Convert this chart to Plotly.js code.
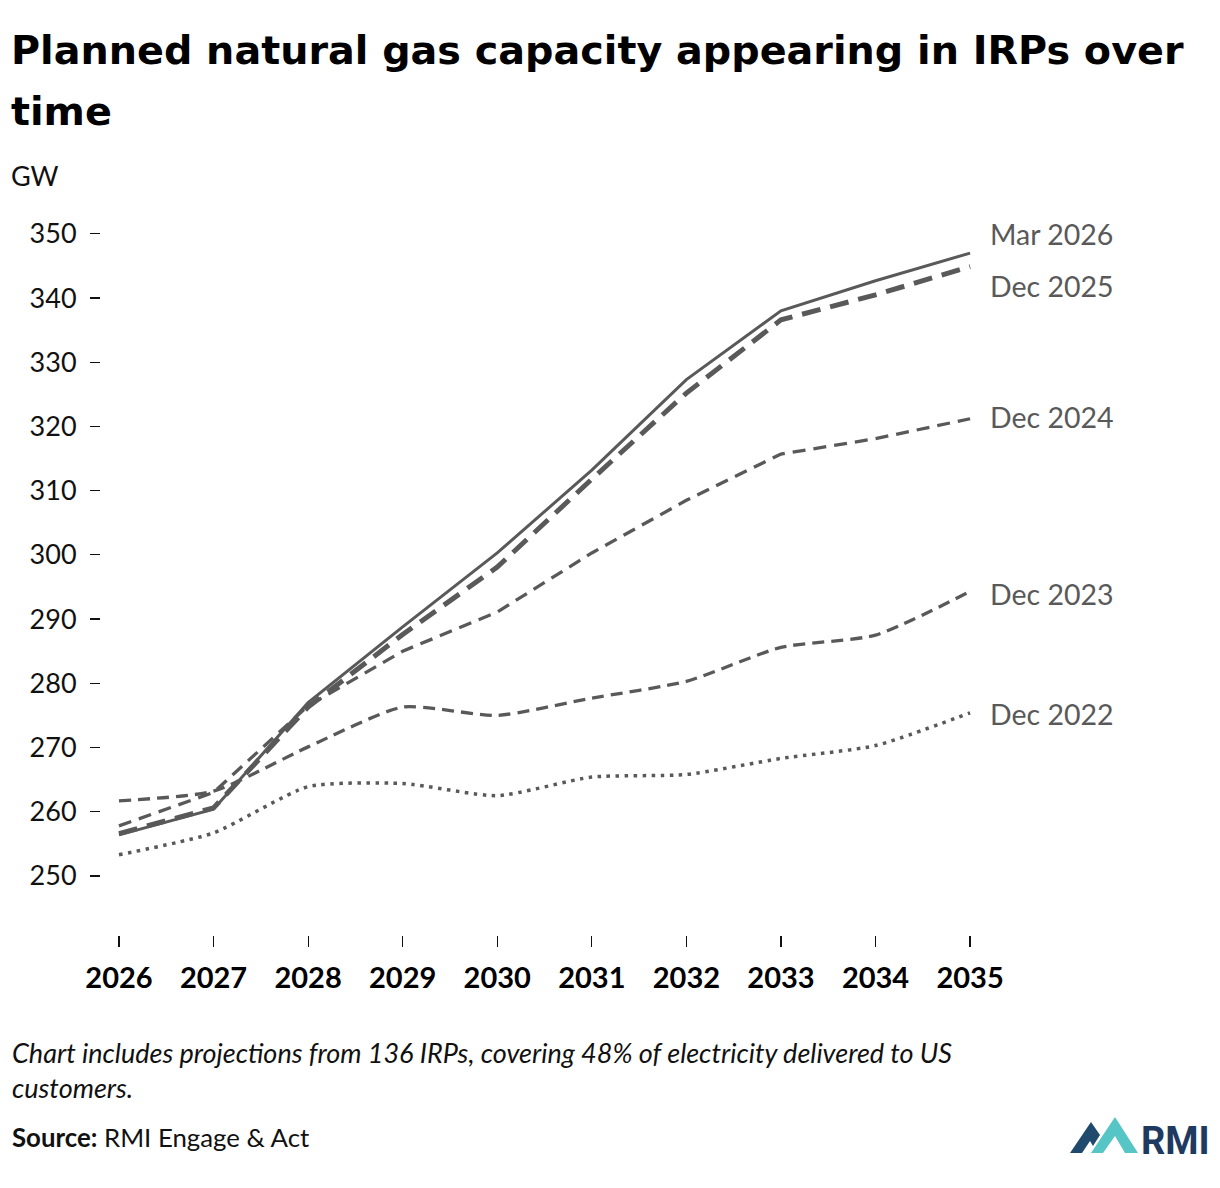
<!DOCTYPE html>
<html>
<head>
<meta charset="utf-8">
<script src="https://cdn.plot.ly/plotly-3.0.1.min.js"></script>
<style>
  html, body { margin: 0; padding: 0; background: #fff; }
  #plot { width: 1220px; height: 1188px; }
</style>
</head>
<body>
<div id="plot"></div>
<script>
const years = [2026, 2027, 2028, 2029, 2030, 2031, 2032, 2033, 2034, 2035];

const mar2026 = [256.4, 260.4, 277.0, 288.8, 300.3, 313.2, 327.3, 338.0, 342.7, 347.0];
const dec2025 = [256.6, 260.6, 276.3, 287.6, 298.1, 311.8, 325.2, 336.6, 340.5, 344.9];
const dec2024 = [257.8, 263.0, 276.5, 285.0, 291.1, 300.3, 308.5, 315.7, 318.1, 321.2];
const dec2023 = [261.7, 263.2, 270.1, 276.3, 275.0, 277.7, 280.3, 285.6, 287.5, 294.3];
const dec2022 = [253.3, 256.7, 263.9, 264.4, 262.5, 265.4, 265.8, 268.3, 270.3, 275.4];

const seriesNames = ['Mar 2026', 'Dec 2025', 'Dec 2024', 'Dec 2023', 'Dec 2022'];

const titleLines = ['Planned natural gas capacity appearing in IRPs over', 'time'];

const grey = '#595959';
const bodyFont = 'Lato, "Liberation Sans", sans-serif';
const titleFont = '"DejaVu Sans", Roboto, sans-serif';

// plot box in pixels, used to place the notes and logo outside it
const box = { l: 101, r: 989, t: 221, b: 935 };
const px = (x) => (x - box.l) / (box.r - box.l);
const py = (y) => (box.b - y) / (box.b - box.t);

function line(name, ys, width, dash, shape) {
  return {
    x: years,
    y: ys,
    name: name,
    type: 'scatter',
    mode: 'lines',
    line: { color: grey, width: width, dash: dash, shape: shape, smoothing: 0.6 },
    hoverinfo: 'skip',
  };
}

const traces = [
  line(seriesNames[4], dec2022, 3.5, '3.5px,5.5px', 'spline'),
  line(seriesNames[3], dec2023, 3.3, '12px,7px', 'spline'),
  line(seriesNames[2], dec2024, 3.3, '13px,8px', 'linear'),
  line(seriesNames[1], dec2025, 5, '19px,10px', 'linear'),
  line(seriesNames[0], mar2026, 3, 'solid', 'linear'),
];

// label heights at the right end (GW)
const labelY = [350, 341.9, 321.5, 293.9, 275.2];

const annotations = seriesNames.map((n, i) => ({
  x: 2035, y: labelY[i], xref: 'x', yref: 'y',
  text: n, showarrow: false, xanchor: 'left', yanchor: 'middle', xshift: 18,
  font: { family: bodyFont, size: 28.5, color: grey },
}));

function note(text, x, y, size, extra) {
  return Object.assign({
    xref: 'paper', yref: 'paper', x: px(x), y: py(y), text: text, showarrow: false,
    xanchor: 'left', yanchor: 'middle', font: { family: bodyFont, size: size, color: '#111' },
  }, extra || {});
}

annotations.push(
  note('<b>' + titleLines[0] + '</b>', 9, 50, 39.7, { font: { family: titleFont, size: 39.7, color: '#000' } }),
  note('<b>' + titleLines[1] + '</b>', 9, 111, 39.7, { font: { family: titleFont, size: 39.7, color: '#000' } }),
  note('GW', 9, 175, 27),
  note('<i>Chart includes projections from 136 IRPs, covering 48% of electricity delivered to US</i>', 10, 1052, 27),
  note('<i>customers.</i>', 10, 1087, 27),
  note('<b>Source:</b> RMI Engage & Act', 10, 1137, 25.8),
  note('<b>RMI</b>', 1212, 1141, 38, { xanchor: 'right', font: { family: 'Roboto, sans-serif', size: 38, color: '#1f3a60' } })
);

function poly(pts, color) {
  const d = pts.map((p, i) => (i ? 'L' : 'M') + px(p[0]) + ',' + py(p[1])).join(' ') + ' Z';
  return { type: 'path', xref: 'paper', yref: 'paper', path: d, fillcolor: color, line: { width: 0 } };
}

const shapes = [
  poly([[1070, 1153], [1091, 1122], [1100, 1135], [1093, 1146], [1090, 1141], [1082, 1153]], '#1f4a6e'),
  poly([[1091, 1153], [1115, 1117], [1138, 1153], [1125, 1153], [1115, 1136], [1103, 1153]], '#56c5c5'),
];

const layout = {
  width: 1220,
  height: 1188,
  paper_bgcolor: '#fff',
  plot_bgcolor: '#fff',
  showlegend: false,
  margin: { l: box.l, r: 1220 - box.r, t: box.t, b: 1188 - box.b, pad: 0 },
  xaxis: {
    range: [2025.81, 2035.2],
    tickmode: 'linear', tick0: 2026, dtick: 1, tickformat: 'd',
    ticks: 'outside', ticklen: 11, tickwidth: 1.2, tickcolor: '#111',
    ticklabelstandoff: 6,
    showgrid: false, zeroline: false, showline: false,
    tickfont: { family: bodyFont, size: 29, color: '#000', weight: 'bold' },
    fixedrange: true,
  },
  yaxis: {
    range: [240.8, 352],
    tickmode: 'linear', tick0: 250, dtick: 10,
    ticks: 'outside', ticklen: 10, tickwidth: 1.2, tickcolor: '#111',
    ticklabelstandoff: 8,
    showgrid: false, zeroline: false, showline: false,
    tickfont: { family: bodyFont, size: 27, color: '#111' },
    fixedrange: true,
  },
  annotations: annotations,
  shapes: shapes,
};

Plotly.newPlot('plot', traces, layout, { displayModeBar: false, staticPlot: true });
</script>
</body>
</html>
